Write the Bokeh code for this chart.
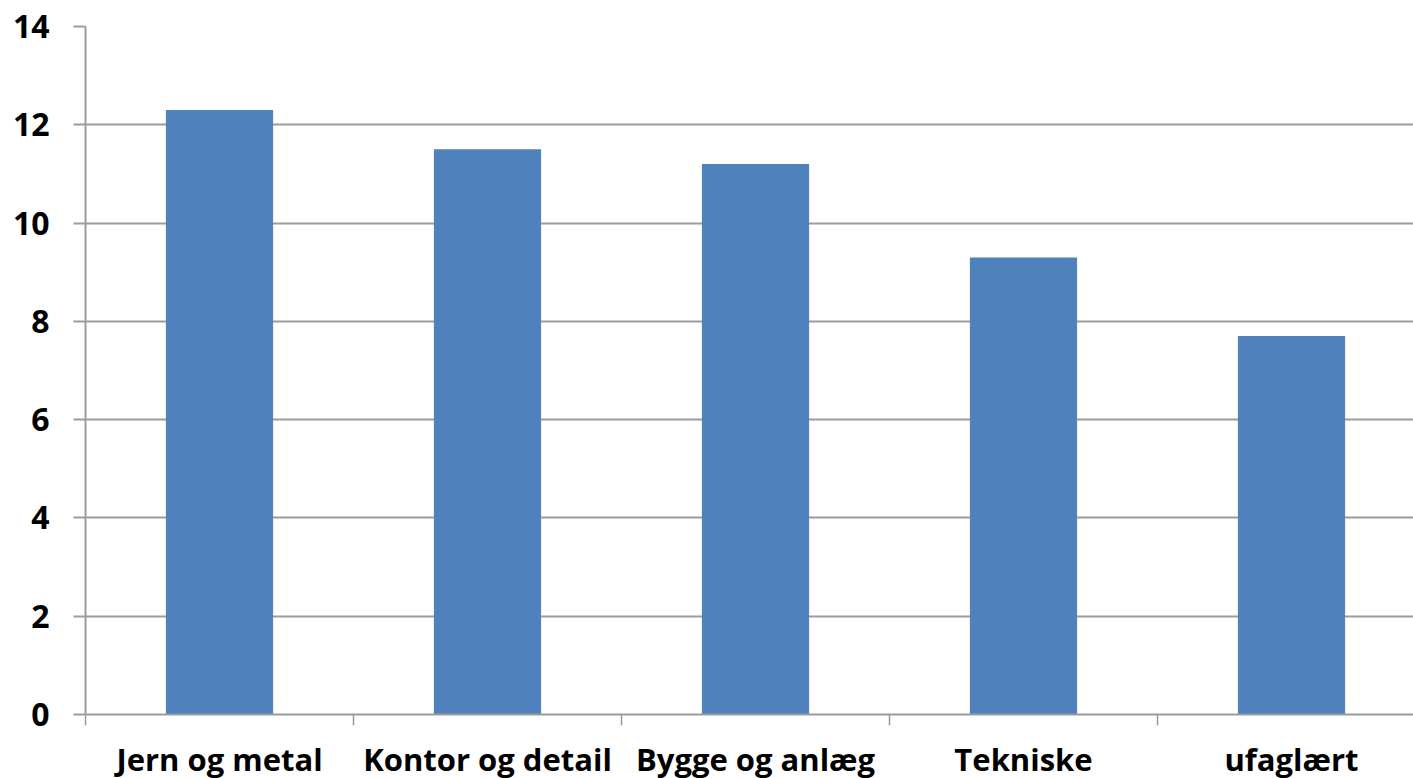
from bokeh.plotting import figure
from bokeh.models import Range1d, FixedTicker, ColumnDataSource
from bokeh.embed import file_html
from bokeh.resources import INLINE

categories = ["Jern og metal", "Kontor og detail", "Bygge og anlæg", "Tekniske", "ufaglært"]
values = [12.3, 11.5, 11.2, 9.3, 7.7]
y_ticks = [0, 2, 4, 6, 8, 10, 12, 14]

n = len(categories)
centers = [i + 0.5 for i in range(n)]
src = ColumnDataSource(dict(x=centers, top=values))

GRAY = "#9c9c9c"
FONT = "Open Sans"

p = figure(frame_width=1328, frame_height=688, output_backend="svg", toolbar_location=None,
           x_range=Range1d(0, 1328 / 268), y_range=Range1d(0, 14),
           min_border_left=85, min_border_right=0, min_border_top=26, min_border_bottom=0)
p.outline_line_color = None
p.background_fill_color = "white"
p.border_fill_color = "white"

p.vbar(x="x", top="top", width=0.4, bottom=0, source=src, fill_color="#4F81BD", line_color=None)

# x axis
p.xaxis.ticker = FixedTicker(ticks=centers, minor_ticks=list(range(n + 1)))
p.xaxis.major_label_overrides = {c: lab for c, lab in zip(centers, categories)}
p.xaxis.major_tick_out = 0
p.xaxis.major_tick_in = 0
p.xaxis.minor_tick_out = 11
p.xaxis.minor_tick_in = 0
p.xaxis.minor_tick_line_color = GRAY
p.xaxis.minor_tick_line_width = 1.5
p.xaxis.axis_line_color = GRAY
p.xaxis.axis_line_width = 2
p.xaxis.major_label_text_font = FONT
p.xaxis.major_label_text_font_style = "bold"
p.xaxis.major_label_text_font_size = "31px"
p.xaxis.major_label_text_color = "black"
p.xaxis.major_label_standoff = 12

# y axis
p.yaxis.ticker = FixedTicker(ticks=y_ticks)
p.yaxis.major_tick_out = 12
p.yaxis.major_tick_in = 0
p.yaxis.minor_tick_line_color = None
p.yaxis.major_tick_line_color = GRAY
p.yaxis.major_tick_line_width = 2
p.yaxis.axis_line_color = GRAY
p.yaxis.axis_line_width = 2
p.yaxis.major_label_text_font = FONT
p.yaxis.major_label_text_font_style = "bold"
p.yaxis.major_label_text_font_size = "32px"
p.yaxis.major_label_text_color = "black"
p.yaxis.major_label_standoff = 24

p.xgrid.grid_line_color = None
p.ygrid.ticker = FixedTicker(ticks=y_ticks)
p.ygrid.grid_line_color = GRAY
p.ygrid.grid_line_width = 2

open("out.html", "w").write(file_html(p, INLINE))
